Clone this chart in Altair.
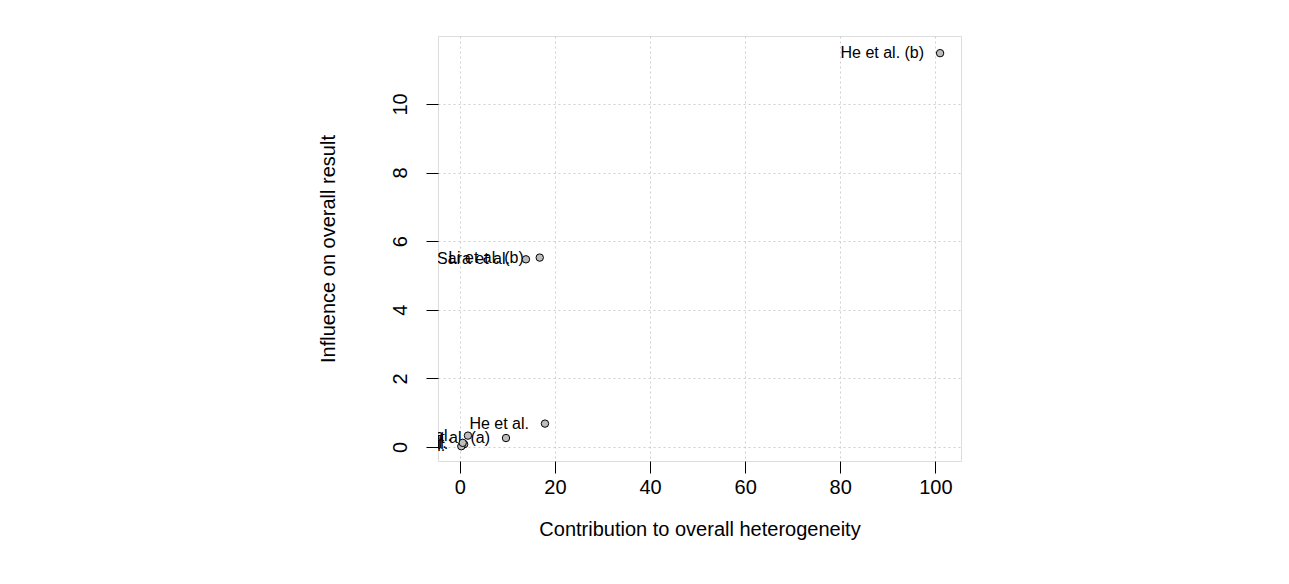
import altair as alt
import pandas as pd

# Baujat plot data
study = ["He et al. (b)", "Sara et al.", "Li et al. (b)", "He et al.", "Li et al. (a)",
         "Wang et al.", "Zhang et al.", "Chen et al.", "Liu et al."]
heterogeneity = [101.0, 13.9, 16.8, 17.9, 9.7, 1.7, 0.9, 0.3, 0.6]
influence = [11.48, 5.47, 5.52, 0.68, 0.26, 0.33, 0.08, 0.02, 0.12]

x_ticks = [0, 20, 40, 60, 80, 100]
y_ticks = [0, 2, 4, 6, 8, 10]

df = pd.DataFrame({"study": study, "x": heterogeneity, "y": influence})

FONT = "Liberation Sans"

xs = alt.Scale(domain=[-4.6, 105.4], nice=False, zero=False)
ys = alt.Scale(domain=[-0.41, 11.98], nice=False, zero=False)

base = alt.Chart(df)

pts = base.mark_point(filled=True, fill="#bdbdbd", stroke="black", strokeWidth=1,
                      size=55, opacity=1, clip=True).encode(
    x=alt.X("x:Q", scale=xs,
            axis=alt.Axis(values=x_ticks, title="Contribution to overall heterogeneity",
                          grid=True, gridDash=[2, 3], gridColor="#cfcfcf",
                          domain=False, tickColor="black", tickSize=12,
                          labelFontSize=20, labelPadding=4, labelColor="black",
                          labelFont=FONT, titleFont=FONT, titleFontSize=20,
                          titleFontWeight="normal", titleColor="black",
                          titlePadding=22, labelFlush=False)),
    y=alt.Y("y:Q", scale=ys,
            axis=alt.Axis(values=y_ticks, title="Influence on overall result",
                          grid=True, gridDash=[2, 3], gridColor="#cfcfcf",
                          domain=False, tickColor="black", tickSize=12,
                          labelFontSize=20, labelPadding=16, labelAngle=270,
                          labelColor="black", labelFont=FONT, titleFont=FONT,
                          titleFontSize=20, titleFontWeight="normal",
                          titleColor="black", titlePadding=52, labelFlush=False)),
)

labels = base.mark_text(align="right", baseline="middle", dx=-16, fontSize=16,
                        font=FONT, color="black", clip=True).encode(
    x=alt.X("x:Q", scale=xs),
    y=alt.Y("y:Q", scale=ys),
    text="study:N",
)

chart = alt.layer(labels, pts).properties(
    width=523, height=425,
    padding={"left": 438, "top": 36, "right": 328, "bottom": 123},
    autosize=alt.AutoSizeParams(type="none"),
).configure_view(stroke="black", strokeWidth=1.5).configure(background="white")

chart.save("out.html", embed_options={"renderer": "svg", "actions": False})
